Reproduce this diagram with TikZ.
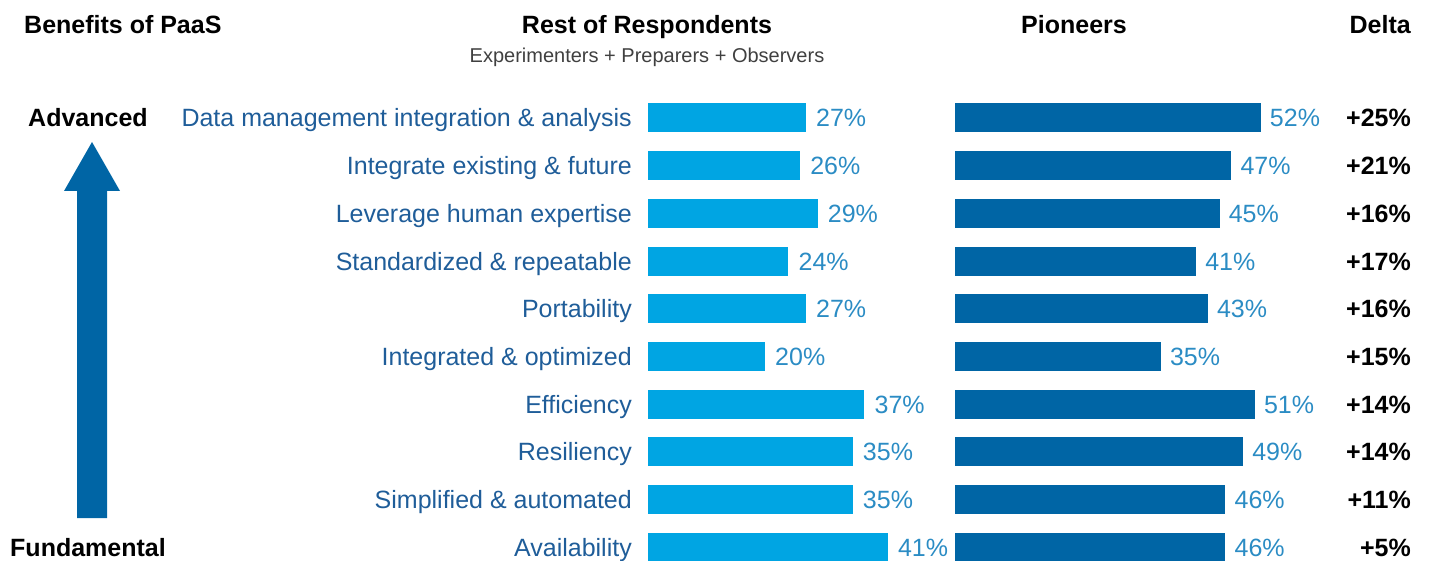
\documentclass[tikz,border=0pt]{standalone}
\usepackage{fontspec}
\setmainfont{Liberation Sans}
\usepackage{tikz}
\usetikzlibrary{positioning}
\definecolor{ciel}{HTML}{00A5E3}
\definecolor{marine}{HTML}{0065A5}
\definecolor{texte}{HTML}{1F5D99}
\definecolor{pct}{HTML}{2B8CC4}
\tikzset{entete/.style={
    inner sep=0pt,
    font=\fontsize{25}{30}\selectfont\bfseries}}
\tikzset{soustitre/.style={
    inner sep=0pt,
    text=black!75,
    font=\fontsize{20}{24}\selectfont}}
\tikzset{benefice/.style={
    anchor=base east,
    inner sep=0pt,
    text=texte,
    font=\fontsize{25}{30}\selectfont}}
\tikzset{valeur/.style={
    anchor=base west,
    inner sep=0pt,
    text=pct,
    font=\fontsize{25}{30}\selectfont}}
\tikzset{ecart/.style={
    anchor=base east,
    inner sep=0pt,
    font=\fontsize{25}{30}\selectfont\bfseries}}

\begin{document}
\begin{tikzpicture}[x=1pt,y=-1pt]
\useasboundingbox (0,0) rectangle (1429,561);
% headers
\node[entete,anchor=base west] (hbenef) at (24,34) {Benefits of PaaS};
\node[entete,anchor=base] (hrest) at (647,34) {Rest of Respondents};
\node[soustitre,anchor=base] (hsous) at (647,63) {Experimenters + Preparers + Observers};
\node[entete,anchor=base] (hpion) at (1074,34) {Pioneers};
\node[entete,anchor=base east] (hdelta) at (1411,34) {Delta};

% scale on the left
\node[entete,anchor=base west] (adv) at (28,127) {Advanced};
\node[entete,anchor=base west] (fund) at (10,556) {Fundamental};
\fill[marine] (77,518) -- (77,191) -- (64,191) -- (92,142) -- (120,191) -- (107,191) -- (107,518) -- cycle;

% rows
\foreach \i/\nom/\r/\p/\d in {
    1/Data management integration \& analysis/27/52/25,
    2/Integrate existing \& future/26/47/21,
    3/Leverage human expertise/29/45/16,
    4/Standardized \& repeatable/24/41/17,
    5/Portability/27/43/16,
    6/Integrated \& optimized/20/35/15,
    7/Efficiency/37/51/14,
    8/Resiliency/35/49/14,
    9/Simplified \& automated/35/46/11,
    10/Availability/41/46/5}{
  \pgfmathsetmacro{\yc}{118+(\i-1)*47.667}
  \node[benefice] (lab\i) at (632,\yc+9) {\nom};
  \fill[ciel] (648,\yc-14.5) rectangle ++(5.85*\r,29);
  \node[valeur] (rv\i) at (648+5.85*\r+10,\yc+9) {\r\%};
  \fill[marine] (955,\yc-14.5) rectangle ++(5.88*\p,29);
  \node[valeur] (pv\i) at (955+5.88*\p+9,\yc+9) {\p\%};
  \node[ecart] (dl\i) at (1411,\yc+9) {+\d\%};
}
\end{tikzpicture}
\end{document}
